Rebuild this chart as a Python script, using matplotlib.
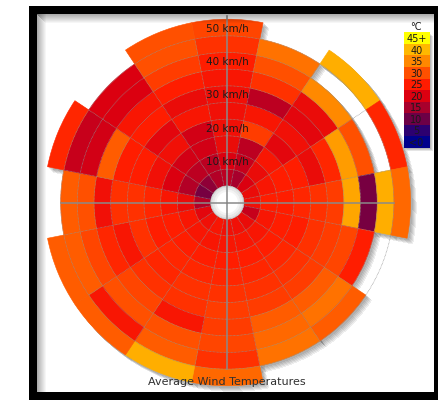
import numpy as np
import matplotlib
matplotlib.use('Agg')
import matplotlib.pyplot as plt
from matplotlib.colors import LinearSegmentedColormap
from matplotlib.transforms import ScaledTranslation
from matplotlib.patches import Rectangle

nan = np.nan

# average temperature (C) per wind direction, one value per 5 km/h speed ring (5..50 km/h)
directions = ['N', 'NNE', 'NE', 'ENE', 'E', 'ESE', 'SE', 'SSE',
              'S', 'SSW', 'SW', 'WSW', 'W', 'WNW', 'NW', 'NNW']
N   = [17, 20, 22, 23, 23, 23, 24, 25, 27, 29]
NNE = [15, 18, 17, 28, 24, 17, 27, 30, 33, nan]
NE  = [20, 22, 24, 21, 23, 21, 22, 35, nan, 39]
ENE = [22, 24, 25, 25, 22, 26, 37, 30, nan, 26]
E   = [23, 25, 25, 26, 27, 28, 38, 11, 39, 32]
ESE = [18, 24, 25, 25, 27, 28, 29, 25, nan, nan]
SE  = [22, 24, 25, 26, 27, 28, 31, 33, 31, nan]
SSE = [23, 24, 25, 26, 27, 28, 31, 32, 33, nan]
S   = [23, 24, 25, 26, 27, 28, 28, 29, 27, 32]
SSW = [24, 24, 25, 26, 27, 27, 24, 30, 31, 39]
SW  = [23, 24, 25, 26, 26, 27, 29, 30, 24, 31]
WSW = [21, 24, 25, 25, 27, 24, 26, 29, 31, 31]
W   = [16, 22, 24, 26, 27, 27, 23, 30, 31, nan]
WNW = [11, 16, 20, 23, 25, 25, 31, 19, 18, 26]
NW  = [13, 17, 19, 23, 21, 25, 24, 20, 20, nan]
NNW = [16, 17, 19, 19, 24, 22, 25, 28, 30, 30]
sectors = [N, NNE, NE, ENE, E, ESE, SE, SSE, S, SSW, SW, WSW, W, WNW, NW, NNW]

speed_labels = ['10 km/h', '20 km/h', '30 km/h', '40 km/h', '50 km/h']
speed_rings = [2, 4, 6, 8, 10]

legend_labels = ['45+', '40', '35', '30', '25', '20', '15', '10', '5', '<0']
legend_colors = ['#ffff00', '#ffb800', '#ff8800', '#ff5000', '#ff1c00',
                 '#dc0010', '#a8002c', '#6c0046', '#2c0070', '#00008c']

cmap = LinearSegmentedColormap.from_list('windtemp', legend_colors[::-1])
tmax = 45.0

W_PX, H_PX = 438, 402
fig = plt.figure(figsize=(W_PX / 100, H_PX / 100), dpi=100)
fig.patch.set_facecolor('white')

def fx(x):
    return x / W_PX

def fy(y):
    return 1 - y / H_PX

# polar area: centre (227.3, 203.5) px, outer radius 183.3 px
cx, cy, rad = 227.3, 203.5, 183.3
ax = fig.add_axes([fx(cx - rad), fy(cy + rad), 2 * rad / W_PX, 2 * rad / H_PX],
                  projection='polar')
ax.set_theta_zero_location('N')
ax.set_theta_direction(-1)
ax.set_ylim(0, 11)
ax.axis('off')

width = 2 * np.pi / 16

# drop shadow
for d in [1.5, 2.5, 3.5, 4.5, 5.5]:
    tr = ax.transData + ScaledTranslation(d / 100, -d / 100, fig.dpi_scale_trans)
    for i, vals in enumerate(sectors):
        for k, v in enumerate(vals):
            if np.isnan(v):
                continue
            ax.bar(i * width, 1, width=width, bottom=k + 1, color='black',
                   alpha=0.07, transform=tr, zorder=1, clip_on=False,
                   antialiased=False, linewidth=0)

# cells
for i, vals in enumerate(sectors):
    for k, v in enumerate(vals):
        if np.isnan(v):
            continue
        c = cmap(min(v, tmax) / tmax)
        ax.bar(i * width, 1, width=width, bottom=k + 1, color=c,
               edgecolor=c, linewidth=0.4, zorder=2, clip_on=False)

# centre hole
ax.bar(0, 1, width=2 * np.pi, bottom=0, color='white', zorder=3)
for j, g in enumerate(['#f4f4f4', '#e8e8e8', '#dcdcdc']):
    ax.bar(0, 0.12, width=2 * np.pi, bottom=0.64 + j * 0.12, color=g, zorder=3)

# grid circles
t = np.linspace(0, 2 * np.pi, 400)
for r in range(1, 11):
    ax.plot(t, np.full_like(t, r), color='#909090', lw=0.5,
            ls=(0, (1, 1)), zorder=4, clip_on=False)

# spokes between sectors
ext = [max(k + 1 for k, v in enumerate(vals) if not np.isnan(v)) for vals in sectors]
for i in range(16):
    a = (i + 0.5) * width
    rmax = min(min(ext[i], ext[(i + 1) % 16]) + 1, 10)
    ax.plot([a, a], [1, rmax], color='#909090', lw=0.5,
            ls=(0, (1, 1)), zorder=4)

# cross lines
ax.plot([0, 0], [0, 11.2], color='#8a8a8a', lw=1.1, zorder=5, clip_on=False)
for a in [np.pi / 2, np.pi, 3 * np.pi / 2]:
    ax.plot([a, a], [0, 10], color='#8a8a8a', lw=1.1, zorder=5, clip_on=False)

# speed labels
for lab, r in zip(speed_labels, speed_rings):
    ax.text(0, r + 0.5, lab, ha='center', va='center', fontsize=7.5,
            color='#1a1a1a', zorder=6)

# title
fig.text(fx(227), fy(382), 'Average Wind Temperatures', ha='center', va='center',
         fontsize=8, color='#303030')

# legend
lx0, lx1, ly0, lh = 403.5, 429.5, 33.3, 11.55
for d in [1.5, 2.5, 3.5]:
    fig.add_artist(Rectangle((fx(lx0 + d), fy(ly0 + d + lh * 10)), (lx1 - lx0) / W_PX,
                             lh * 10 / H_PX, transform=fig.transFigure,
                             color='black', alpha=0.1, lw=0))
for j, (lab, col) in enumerate(zip(legend_labels, legend_colors)):
    top = ly0 + j * lh
    fig.add_artist(Rectangle((fx(lx0), fy(top + lh)), (lx1 - lx0) / W_PX, lh / H_PX,
                             transform=fig.transFigure, color=col, lw=0))
    fig.text(fx((lx0 + lx1) / 2), fy(top + lh / 2), lab, ha='center', va='center',
             fontsize=7, color='#1a1a1a')
fig.text(fx(416), fy(27.5), '°C', ha='center', va='center', fontsize=7, color='#1a1a1a')

# frame with inner shadow
for j in range(9):
    a = 0.32 * (1 - j / 9)
    fig.add_artist(Rectangle((fx(37 + j), fy(393)), 1 / W_PX, (393 - 15) / H_PX,
                             transform=fig.transFigure, color='black', alpha=a, lw=0))
    fig.add_artist(Rectangle((fx(37 + j), fy(16 + j)), (434 - 37 - j) / W_PX, 1 / H_PX,
                             transform=fig.transFigure, color='black', alpha=a, lw=0))
for (x0, y0, x1, y1) in [(29, 7, 37, 401), (29, 7, 437.5, 15),
                         (434, 7, 437.5, 401), (29, 393, 437.5, 401)]:
    fig.add_artist(Rectangle((fx(x0), fy(y1)), (x1 - x0) / W_PX, (y1 - y0) / H_PX,
                             transform=fig.transFigure, color='black', lw=0))

fig.savefig('out.png', dpi=100)
